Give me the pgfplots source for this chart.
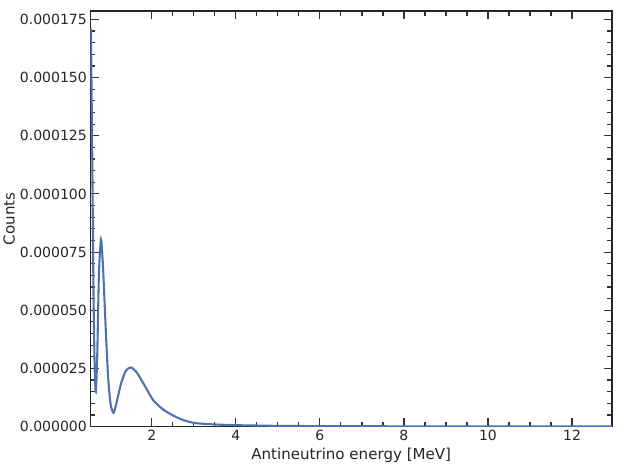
\documentclass[border={0pt 0pt 10pt 10pt}]{standalone}
\usepackage{pgfplots}
\pgfplotsset{compat=1.18}
\usepackage{fontspec}
\setmainfont{DejaVu Sans}
\definecolor{sb}{HTML}{4C72B0}
\begin{document}
\begin{tikzpicture}
\begin{axis}[
  width=502pt, height=400pt, scale only axis,
  xmin=0.54, xmax=12.95, ymin=0, ymax=0.0001786,
  xtick={2,4,6,8,10,12}, minor x tick num=3,
  ytick={0,0.000025,0.00005,0.000075,0.0001,0.000125,0.00015,0.000175},
  yticklabels={0.000000,0.000025,0.000050,0.000075,0.000100,0.000125,0.000150,0.000175},
  minor y tick num=4,
  scaled y ticks=false,
  tick align=inside, xtick pos=both, ytick pos=both,
  major tick length=8pt, minor tick length=4.5pt,
  every tick/.style={black!80, line width=1.1pt},
  axis line style={black!85, line width=1.3pt},
  tick label style={font=\fontsize{13.5}{16}\selectfont, text=black!85},
  label style={font=\fontsize{14.5}{17}\selectfont, text=black!85},
  /pgf/number format/assume math mode=true,
  xlabel={Antineutrino energy [MeV]}, ylabel={Counts},
  ylabel style={yshift=-2pt},
]
\addplot[color=sb, line width=2pt, smooth, tension=0.4] coordinates {
(0.55,0.000171) (0.58,0.00012) (0.61,0.00006) (0.64,0.000025) (0.667,0.0000149)
(0.70,0.00003) (0.74,0.000065) (0.79,0.0000804) (0.84,0.000068) (0.90,0.000043)
(0.96,0.000021) (1.02,0.0000095) (1.09,0.0000059) (1.17,0.000011) (1.26,0.000018)
(1.38,0.000024) (1.51,0.0000254) (1.65,0.000023) (1.80,0.0000185) (2.04,0.0000112)
(2.28,0.0000072) (2.53,0.0000045) (2.78,0.0000026) (3.03,0.0000015) (3.5,0.0000009)
(4,0.0000006) (5,0.0000003) (6,0.0000002) (8,0.0000001) (10,0.00000005) (12.95,0.00000002)
};
\end{axis}
\end{tikzpicture}
\end{document}
